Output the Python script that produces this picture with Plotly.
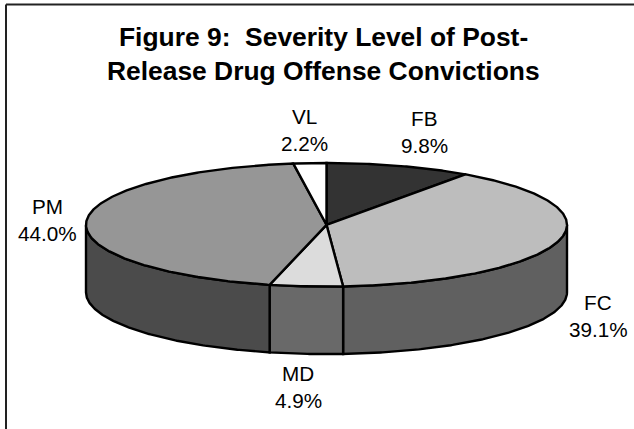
import numpy as np
import plotly.graph_objects as go

# Shares of post-release drug offense convictions by severity level
categories = ["FB", "FC", "MD", "PM", "VL"]
shares = [9.8, 39.1, 4.9, 44.0, 2.2]

top_colors = ["#333333", "#bdbdbd", "#dcdcdc", "#969696", "#ffffff"]
side_colors = ["#262626", "#606060", "#696969", "#4b4b4b", "#808080"]
label_centers = [(424, 132), (598, 316), (298, 387), (47, 220), (304, 130)]

# Projection of the tilted disc onto the page, in pixels
CX, CY, RX, RY, DEPTH = 326.5, 224.8, 240.5, 61.8, 67.5
EDGE = dict(color="#000000", width=2.4)


def rim(start, stop, drop=0.0):
    """Points along the disc rim, angles in degrees clockwise from 12 o'clock."""
    n = max(2, int(abs(stop - start)) * 2)
    a = np.radians(np.linspace(start, stop, n))
    return CX + RX * np.sin(a), CY - RY * np.cos(a) + drop


def polygon(xs, ys, fill):
    return go.Scatter(
        x=xs, y=ys, mode="lines", fill="toself", fillcolor=fill,
        line=dict(EDGE, shape="linear"), hoverinfo="skip", showlegend=False,
    )


edges = np.concatenate([[0.0], np.cumsum(shares)]) * 360.0 / sum(shares)
fig = go.Figure()

# Side wall: only the front half of the rim (90 to 270 degrees) faces the viewer
for i in range(len(categories)):
    lo, hi = max(edges[i], 90.0), min(edges[i + 1], 270.0)
    if lo >= hi:
        continue
    xt, yt = rim(lo, hi)
    xb, yb = rim(hi, lo, DEPTH)
    fig.add_trace(polygon(np.r_[xt, xb, xt[0]], np.r_[yt, yb, yt[0]], side_colors[i]))

# Top face wedges
for i in range(len(categories)):
    xt, yt = rim(edges[i], edges[i + 1])
    fig.add_trace(polygon(np.r_[CX, xt, CX], np.r_[CY, yt, CY], top_colors[i]))

annotations = [
    dict(x=323, y=37, text="<b>Figure 9:  Severity Level of Post-</b>"),
    dict(x=323, y=71, text="<b>Release Drug Offense Convictions</b>"),
]
for a in annotations:
    a["font"] = dict(size=26.4, family="Liberation Sans", color="#000000")

for name, share, (lx, ly) in zip(categories, shares, label_centers):
    annotations.append(dict(x=lx, y=ly - 13.5, text=name,
                            font=dict(size=20.7, family="Liberation Sans", color="#000000")))
    annotations.append(dict(x=lx, y=ly + 13.5, text=f"{share:.1f}%",
                            font=dict(size=20.7, family="Liberation Sans", color="#000000")))
for a in annotations:
    a.update(xref="x", yref="y", showarrow=False, xanchor="center", yanchor="middle")

# The chart frame runs off the page on the right and at the bottom
shapes = [
    dict(type="line", xref="x", yref="y", x0=6, x1=6, y0=4.5, y1=429, line=dict(color="#222222", width=2)),
    dict(type="line", xref="x", yref="y", x0=6, x1=634, y0=4.5, y1=4.5, line=dict(color="#222222", width=2)),
]

fig.update_layout(
    width=634, height=429, margin=dict(l=0, r=0, t=0, b=0),
    paper_bgcolor="#ffffff", plot_bgcolor="#ffffff",
    showlegend=False, annotations=annotations, shapes=shapes,
    xaxis=dict(range=[0, 634], visible=False, fixedrange=True),
    yaxis=dict(range=[429, 0], visible=False, fixedrange=True),
)
fig.write_html("out.html", config=dict(displayModeBar=False))
